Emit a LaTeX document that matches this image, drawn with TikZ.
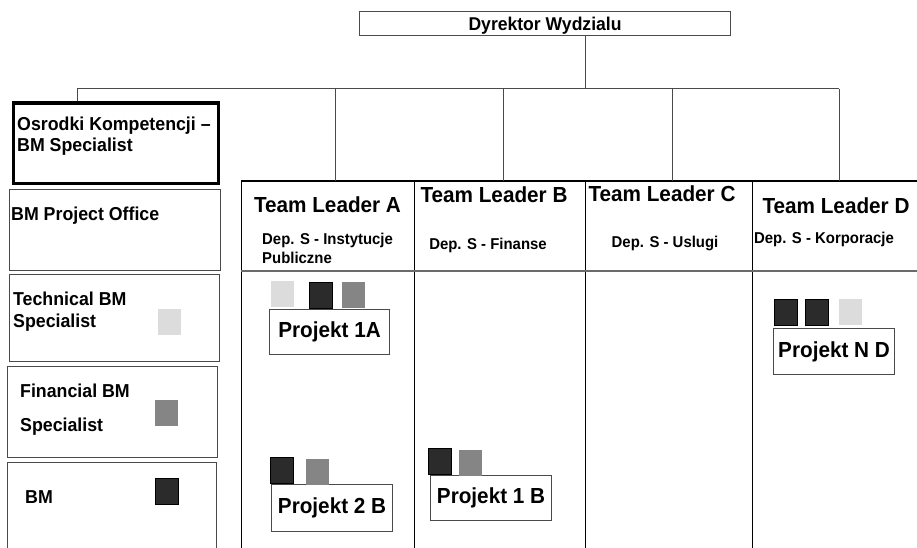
\documentclass[tikz,border=0pt]{standalone}
\usepackage{fontspec}
\setmainfont{Liberation Sans}[FakeStretch=0.95]
\usetikzlibrary{positioning}
\definecolor{sqlight}{HTML}{DCDCDC}
\definecolor{sqmid}{HTML}{858585}
\definecolor{sqdark}{HTML}{2B2B2B}
\definecolor{rule}{HTML}{4A4A4A}
\tikzset{
  box/.style={draw=rule, line width=1.1pt, inner sep=0pt, anchor=north west},
  cell/.style={draw=black, line width=1.2pt, inner sep=0pt, anchor=north west, minimum height=89},
  col/.style={draw=black, line width=1.2pt, inner sep=0pt, anchor=north west, minimum height=300},
  sq/.style={inner sep=0pt, anchor=north west, minimum width=23, minimum height=26},
  light/.style={sq, fill=sqlight},
  mid/.style={sq, fill=sqmid},
  dark/.style={sq, fill=sqdark, draw=black, line width=0.6pt},
  lbl/.style={inner sep=0pt, anchor=base west, font=\fontsize{18.7}{22}\selectfont\bfseries},
  lead/.style={inner sep=0pt, anchor=base, font=\fontsize{21.8}{25}\selectfont\bfseries},
  dep/.style={inner sep=0pt, font=\fontsize{15.7}{18}\selectfont\bfseries},
  proj/.style={box, font=\fontsize{21.8}{25}\selectfont\bfseries},
  link/.style={draw=rule, line width=1pt}
}
\begin{document}
\begin{tikzpicture}[x=1pt, y=-1pt]
    \clip (0,0) rectangle (917,548);
    \fill[white] (0,0) rectangle (917,548);

    \node[box, minimum width=371, minimum height=24, text depth=0pt, font=\fontsize{18.5}{21}\selectfont\bfseries] (dyr) at (359,11) {Dyrektor Wydzialu};

    % left column
    \node[box, draw=black, line width=3.5pt, minimum width=205, minimum height=80] (osr) at (11.5,101.5) {};
    \node[box, minimum width=211, minimum height=81] (office) at (9,189) {};
    \node[box, minimum width=210, minimum height=87] (tech) at (9,274) {};
    \node[box, minimum width=210, minimum height=91] (fin) at (7,366) {};
    \node[box, minimum width=209, minimum height=120] (bm) at (7,462) {};

    \node[lbl] (osr1) at (17,131) {Osrodki Kompetencji –};
    \node[lbl] (osr2) at (17,152) {BM Specialist};
    \node[lbl] (office1) at (11,220) {BM Project Office};
    \node[lbl] (tech1) at (13,305) {Technical BM};
    \node[lbl] (tech2) at (13,327) {Specialist};
    \node[lbl] (fin1) at (20,397) {Financial BM};
    \node[lbl] (fin2) at (20,431) {Specialist};
    \node[lbl] (bm1) at (25,503) {BM};

    \node[light] (techsq) at (158,309) {};
    \node[mid] (finsq) at (155,400) {};
    \node[dark] (bmsq) at (155,478) {};

    % team table
    \node[cell, minimum width=173] (hA) at (241,181) {};
    \node[cell, minimum width=171] (hB) at (414,181) {};
    \node[cell, minimum width=167] (hC) at (585,181) {};
    \node[cell, minimum width=180] (hD) at (752,181) {};
    \node[col, minimum width=173] (cA) at (241,270) {};
    \node[col, minimum width=171] (cB) at (414,270) {};
    \node[col, minimum width=167] (cC) at (585,270) {};
    \node[col, minimum width=180] (cD) at (752,270) {};
    \draw[line width=2pt] (hA.north west) -- (hD.north east);
    \draw[line width=2pt, draw=sqmid!80!black] (hA.south west) -- (hD.south east);

    \node[lead] (tlA) at (327.5,212) {Team Leader A};
    \node[lead] (tlB) at (494,202) {Team Leader B};
    \node[lead] (tlC) at (662,201) {Team Leader C};
    \node[lead] (tlD) at (836,213) {Team Leader D};
    \node[dep, anchor=base west] (depA1) at (262,244) {Dep. S - Instytucje};
    \node[dep, anchor=base west] (depA2) at (262,263) {Publiczne};
    \node[dep, anchor=base] (depB) at (488,249) {Dep. S - Finanse};
    \node[dep, anchor=base] (depC) at (665,247) {Dep. S - Uslugi};
    \node[dep, anchor=base] (depD) at (824,243) {Dep. S - Korporacje};

    % projects
    \node[proj, minimum width=120, minimum height=45] (p1A) at (269,309) {Projekt 1A};
    \node[proj, minimum width=121, minimum height=47] (p2B) at (271,484) {Projekt 2 B};
    \node[proj, minimum width=121, minimum height=45] (p1B) at (430,475) {Projekt 1 B};
    \node[proj, minimum width=121, minimum height=46] (pND) at (773,328) {Projekt N D};

    \node[light] (p1Aa) at (271,281) {};
    \node[dark] (p1Ab) at (309,282) {};
    \node[mid] (p1Ac) at (342,282) {};
    \node[dark] (p2Ba) at (270,457) {};
    \node[mid] (p2Bb) at (306,459) {};
    \node[dark] (p1Ba) at (428,448) {};
    \node[mid] (p1Bb) at (459,450) {};
    \node[dark] (pNDa) at (774,299) {};
    \node[dark] (pNDb) at (805,299) {};
    \node[light] (pNDc) at (839,299) {};

    % links
    \coordinate (top) at ([xshift=40pt]dyr.south);
    \coordinate (bL) at (77,89);
    \coordinate (bR) at (839,89);
    \coordinate (b1) at (335,89);
    \coordinate (b2) at (503,89);
    \coordinate (b3) at (672,89);
    \draw[link] (top) -- (top |- bL);
    \draw[link] (bL) -- (bR);
    \draw[link] (bL) -- (bL |- osr.north);
    \draw[link] (b1) -- (b1 |- hA.north);
    \draw[link] (b2) -- (b2 |- hB.north);
    \draw[link] (b3) -- (b3 |- hC.north);
    \draw[link] (bR) -- (bR |- hD.north);
\end{tikzpicture}
\end{document}
